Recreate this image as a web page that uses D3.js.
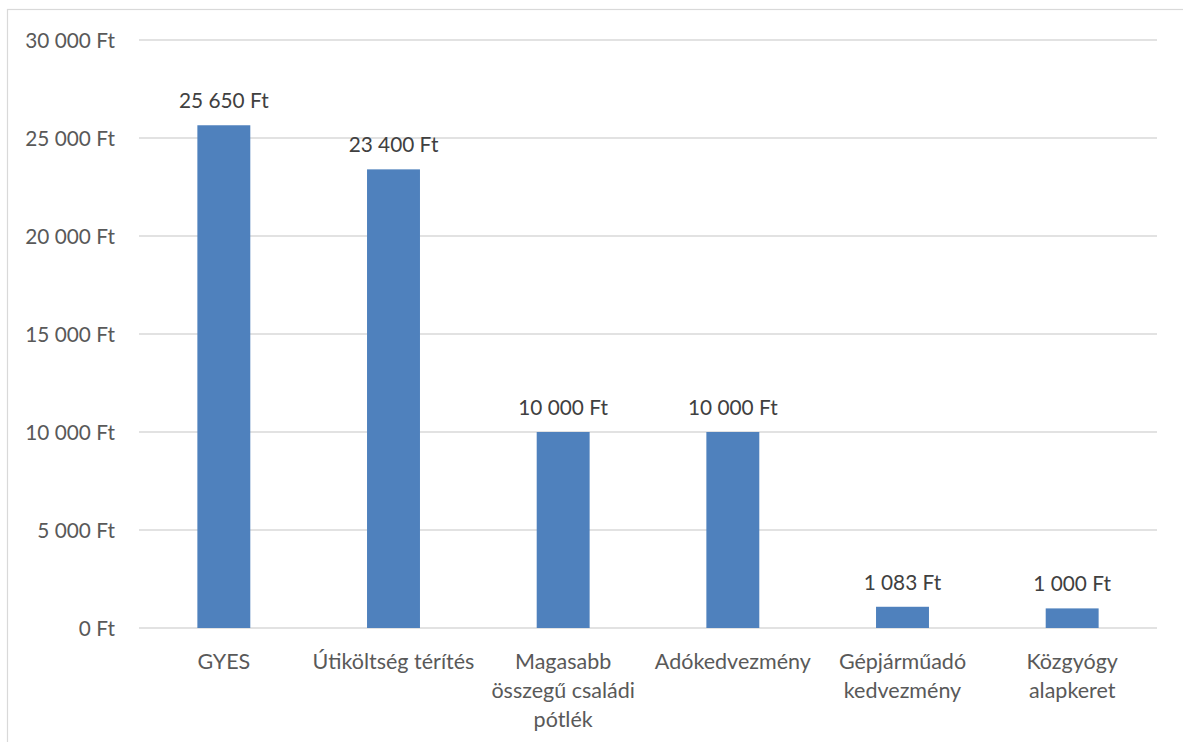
<!DOCTYPE html>
<html>
<head>
<meta charset="utf-8">
<script src="https://cdn.jsdelivr.net/npm/d3@7"></script>
<style>
  html, body { margin: 0; padding: 0; background: #fff; }
  svg { display: block; }
  text { font-family: Lato, "Open Sans", sans-serif; }
</style>
</head>
<body>
<svg id="chart" width="1183" height="742"></svg>
<script>
// Benefit categories (each entry is a list of wrapped label lines)
const categories = [
  ["GYES"],
  ["Útiköltség térítés"],
  ["Magasabb", "összegű családi", "pótlék"],
  ["Adókedvezmény"],
  ["Gépjárműadó", "kedvezmény"],
  ["Közgyógy", "alapkeret"]
];
const values = [25650, 23400, 10000, 10000, 1083, 1000];
const yTicks = [0, 5000, 10000, 15000, 20000, 25000, 30000];

const fmt = v => d3.format(",")(v).replace(/,/g, " ") + " Ft";

const svg = d3.select("#chart");
const W = 1183, H = 742;
const plot = { left: 139, right: 1157, top: 40, bottom: 628 };
const fontSize = "20.8px";

// Outer chart frame
svg.append("rect")
  .attr("x", 7.5).attr("y", 9.5)
  .attr("width", W - 7.5 + 10).attr("height", H)
  .attr("fill", "#fff").attr("stroke", "#d9d9d9").attr("stroke-width", 1.2);

const x = d3.scaleBand()
  .domain(d3.range(categories.length))
  .range([plot.left, plot.right])
  .paddingInner(0.688).paddingOuter(0.344);

const y = d3.scaleLinear()
  .domain([0, 30000])
  .range([plot.bottom, plot.top]);

// Horizontal gridlines
svg.append("g")
  .selectAll("line")
  .data(yTicks)
  .join("line")
  .attr("x1", plot.left).attr("x2", plot.right)
  .attr("y1", d => y(d)).attr("y2", d => y(d))
  .attr("stroke", "#d9d9d9").attr("stroke-width", 1.3);

// Y axis labels
const yAxis = d3.axisLeft(y).tickValues(yTicks).tickFormat(fmt).tickSize(0).tickPadding(0);
const gy = svg.append("g").attr("transform", `translate(115,0)`).call(yAxis);
gy.select(".domain").remove();
gy.selectAll("text")
  .attr("fill", "#595959")
  .style("font-size", fontSize)
  .style("font-family", "Lato, 'Open Sans', sans-serif")
  .attr("dy", "0.34em");

// Bars
svg.append("g")
  .selectAll("rect")
  .data(values)
  .join("rect")
  .attr("x", (d, i) => x(i))
  .attr("width", x.bandwidth())
  .attr("y", d => y(d))
  .attr("height", d => y(0) - y(d))
  .attr("fill", "#4f81bd");

// Value labels above bars
svg.append("g")
  .selectAll("text")
  .data(values)
  .join("text")
  .attr("x", (d, i) => x(i) + x.bandwidth() / 2)
  .attr("y", d => y(d) - 17)
  .attr("text-anchor", "middle")
  .attr("fill", "#404040")
  .style("font-size", fontSize)
  .text(d => fmt(d));

// Category labels
const cat = svg.append("g")
  .selectAll("text")
  .data(categories)
  .join("text")
  .attr("x", (d, i) => x(i) + x.bandwidth() / 2)
  .attr("y", 669)
  .attr("text-anchor", "middle")
  .attr("fill", "#595959")
  .style("font-size", "21.5px");
cat.selectAll("tspan")
  .data(d => d)
  .join("tspan")
  .attr("x", function () { return d3.select(this.parentNode).attr("x"); })
  .attr("dy", (d, i) => i === 0 ? 0 : 29)
  .text(d => d);
</script>
</body>
</html>
